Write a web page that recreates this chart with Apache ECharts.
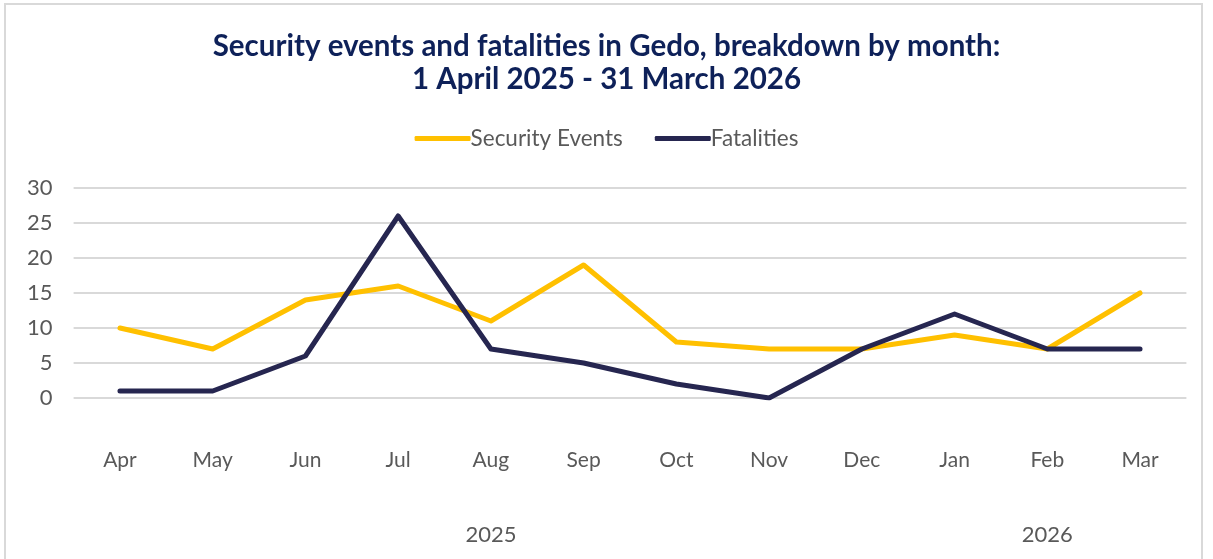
<!DOCTYPE html>
<html>
<head>
<meta charset="utf-8">
<script src="https://cdn.jsdelivr.net/npm/echarts@6/dist/echarts.min.js"></script>
<style>
html,body{margin:0;padding:0;background:#fff;}
#frame{position:absolute;left:4px;top:3px;width:1199px;height:600px;border:2px solid #d9d9d9;box-sizing:border-box;}
#chart{position:absolute;left:0;top:0;width:1213px;height:559px;}
</style>
</head>
<body>
<div id="frame"></div>
<div id="chart"></div>
<script>
const months = ['Apr','May','Jun','Jul','Aug','Sep','Oct','Nov','Dec','Jan','Feb','Mar'];
const yearLabels = ['','','','','2025','','','','','','2026',''];
const securityEvents = [10, 7, 14, 16, 11, 19, 8, 7, 7, 9, 7, 15];
const fatalities = [1, 1, 6, 26, 7, 5, 2, 0, 7, 12, 7, 7];
const yTicks = [0, 5, 10, 15, 20, 25, 30];

const chart = echarts.init(document.getElementById('chart'));
const font = 'Lato, "Open Sans", sans-serif';
chart.setOption({
  animation: false,
  title: {
    text: 'Security events and fatalities in Gedo, breakdown by month:\n1 April 2025 - 31 March 2026',
    left: 'center',
    top: 25,
    textStyle: {color: '#0e2159', fontFamily: font, fontWeight: 'bold', fontSize: 29.5, lineHeight: 33}
  },
  legend: {
    top: 122,
    left: 'center',
    itemWidth: 56,
    itemHeight: 5,
    itemGap: 32,
    icon: 'roundRect',
    textStyle: {color: '#595959', fontFamily: font, fontSize: 22.5, padding: [0,0,0,-5]},
    data: ['Security Events', 'Fatalities']
  },
  grid: {left: 73.6, right: 26.6, top: 188, bottom: 161, containLabel: false},
  xAxis: [{
    type: 'category',
    data: months,
    boundaryGap: true,
    axisLine: {show: false},
    axisTick: {show: false},
    axisLabel: {margin: 52, color: '#595959', fontFamily: font, fontSize: 21, interval: 0}
  }, {
    type: 'category',
    data: yearLabels,
    position: 'bottom',
    boundaryGap: true,
    axisLine: {show: false},
    axisTick: {show: false},
    axisLabel: {margin: 126, color: '#595959', fontFamily: font, fontSize: 22, interval: 0}
  }],
  yAxis: {
    type: 'value',
    min: yTicks[0],
    max: yTicks[yTicks.length - 1],
    interval: 5,
    axisLine: {show: false},
    axisTick: {show: false},
    splitLine: {lineStyle: {color: '#d9d9d9', width: 2}},
    axisLabel: {margin: 21, color: '#595959', fontFamily: font, fontSize: 22}
  },
  series: [{
    name: 'Security Events',
    type: 'line',
    data: securityEvents,
    showSymbol: false,
    symbol: 'none',
    color: '#ffc000',
    lineStyle: {width: 5, color: '#ffc000', cap: 'round', join: 'round'}
  }, {
    name: 'Fatalities',
    type: 'line',
    data: fatalities,
    showSymbol: false,
    symbol: 'none',
    color: '#262650',
    lineStyle: {width: 5, color: '#262650', cap: 'round', join: 'round'}
  }]
});
</script>
</body>
</html>
